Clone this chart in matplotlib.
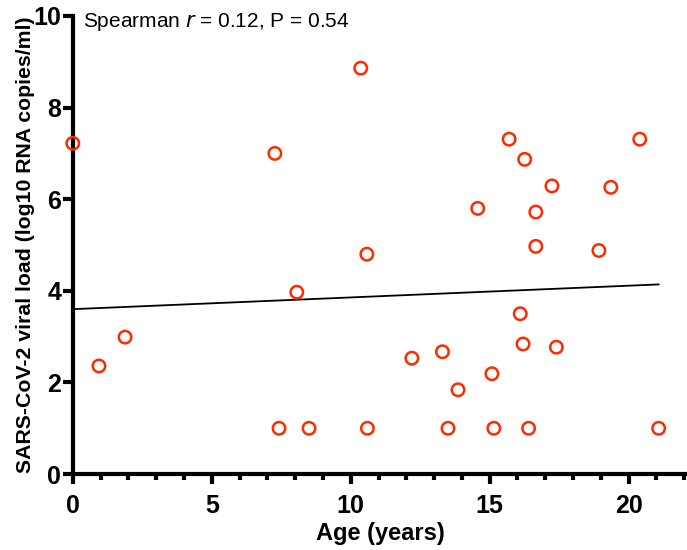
import numpy as np
import matplotlib.pyplot as plt
from matplotlib.ticker import MultipleLocator

plt.rcParams['font.family'] = ['Liberation Sans', 'DejaVu Sans']

# Alter (Jahre) und Viruslast (log10 RNA copies/ml)
age = [0.0, 0.94, 1.88, 7.27, 7.42, 8.06, 8.5, 10.36, 10.58, 10.6,
       12.2, 13.3, 13.5, 13.86, 14.57, 15.08, 15.15, 15.7, 16.1, 16.2,
       16.26, 16.4, 16.66, 16.66, 17.24, 17.4, 18.93, 19.36, 20.4, 21.08]
load = [7.22, 2.36, 2.99, 7.0, 1.0, 3.97, 1.0, 8.86, 4.8, 1.0,
        2.53, 2.67, 1.0, 1.84, 5.8, 2.19, 1.0, 7.31, 3.5, 2.84,
        6.87, 1.0, 4.97, 5.72, 6.29, 2.77, 4.88, 6.26, 7.31, 1.0]

# Regressionsgerade (Endpunkte)
fit_x = [0.0, 21.08]
fit_y = [3.6, 4.14]

fig = plt.figure(figsize=(6.87, 5.5), dpi=100)
ax = fig.add_axes([0.106, 0.138, 0.894, 0.833])

ax.plot(fit_x, fit_y, color='black', lw=1.3, zorder=2)
ax.scatter(age, load, s=80, facecolors='none', edgecolors='#ff2a00',
           linewidths=1.8, zorder=3, clip_on=False)

ax.set_xlim(0, 22.1)
ax.set_ylim(0, 10)
ax.xaxis.set_major_locator(MultipleLocator(5))
ax.xaxis.set_minor_locator(MultipleLocator(1))
ax.yaxis.set_major_locator(MultipleLocator(2))

for s in ['top', 'right']:
    ax.spines[s].set_visible(False)
for s in ['left', 'bottom']:
    ax.spines[s].set_linewidth(3)

ax.tick_params(which='major', length=7.5, width=3, labelsize=18)
ax.tick_params(which='minor', length=4.5, width=3)
ax.tick_params(axis='x', which='major', pad=7)
ax.tick_params(axis='y', which='major', pad=1)
for lab in ax.get_xticklabels() + ax.get_yticklabels():
    lab.set_fontweight('bold')

ax.set_xlabel('Age (years)', fontsize=17, fontweight='bold', labelpad=2.5)
ax.set_ylabel('SARS-CoV-2 viral load (log10 RNA copies/ml)', fontsize=15.3,
              fontweight='bold', labelpad=-1)

ax.text(0.37, 9.87, 'Spearman $\\it{r}$ = 0.12, P = 0.54', fontsize=15,
        va='center', ha='left')

fig.savefig('out.png', dpi=100)
